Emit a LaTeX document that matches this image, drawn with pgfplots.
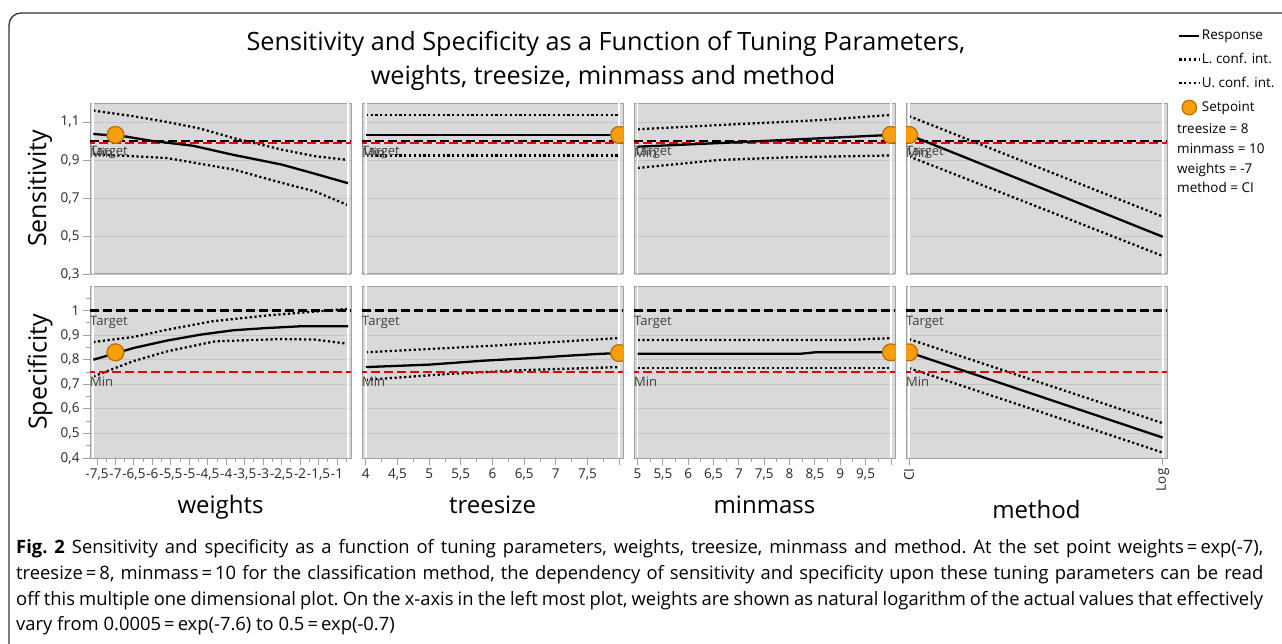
\documentclass[border=0pt]{standalone}
\usepackage{pgfplots}
\pgfplotsset{compat=1.18}
\usepgfplotslibrary{fillbetween}
\usepackage{fontspec}
\setmainfont{Open Sans}

\definecolor{panelgray}{RGB}{217,217,217}
\definecolor{framegray}{RGB}{160,160,160}
\definecolor{gridgray}{RGB}{196,196,196}
\definecolor{setorange}{RGB}{247,158,8}
\definecolor{setedge}{RGB}{186,108,0}
\definecolor{minred}{RGB}{230,0,0}
\definecolor{labgray}{RGB}{64,64,64}

\tikzset{
  tgt/.style={black, line width=2.6pt, dash pattern=on 9pt off 4pt},
  mn/.style={minred, line width=2.2pt, dash pattern=on 9pt off 4pt, dash phase=4pt},
  strip/.style={white, line width=1.8pt},
  lab/.style={font=\fontsize{13}{14}\selectfont, text=labgray, inner sep=0pt},
}

\pgfplotsset{
  layers/prof layers/.define layer set={axis background,pre main,axis grid,axis ticks,axis lines,axis tick labels,main,axis descriptions,axis foreground}{},
  prof/.style={
    set layers=prof layers,
    scale only axis, width=261pt, height=171pt,
    axis background/.style={fill=panelgray},
    axis line style={draw=framegray, line width=1pt},
    clip marker paths=true,
    ymajorgrids, major grid style={draw=gridgray, line width=0.9pt},
    tick align=outside, major tick length=7pt, minor tick length=4pt,
    tick style={draw=framegray, line width=0.9pt},
    xtick pos=bottom, ytick pos=left,
    tick label style={font=\fontsize{13.5}{15}\selectfont, text=black!85},
    xtick=\empty,
  },
  sens/.style={prof, ymin=0.3, ymax=1.2, ytick={0.3,0.5,0.7,0.9,1.1},
    yticklabels={{0,3},{0,5},{0,7},{0,9},{1,1}}},
  spec/.style={prof, height=172pt, ymin=0.4, ymax=1.1, ytick={0.4,0.5,0.6,0.7,0.8,0.9,1.0},
    yticklabels={{0,4},{0,5},{0,6},{0,7},{0,8},{0,9},1}},
  nolab/.style={yticklabels={}, ytick style={draw=none}},
  resp/.style={black, line width=2.3pt, forget plot},
  ci/.style={black, line width=2.3pt, dash pattern=on 2.2pt off 2.6pt, forget plot},
  setp/.style={only marks, mark=*, mark size=8.5pt,
    mark options={fill=setorange, draw=setedge, line width=1.2pt}, forget plot},
  band/.style={white, forget plot},
  legline/.style={legend image code/.code={\draw[##1] (0pt,0pt) -- (20pt,0pt);}},
  legcirc/.style={legend image code/.code={\draw[fill=setorange, draw=setedge, line width=1.2pt] (10pt,0pt) circle (7.3pt);}},
}

\begin{document}
\begin{tikzpicture}[x=1pt,y=1pt]

% ---------- top row: sensitivity ----------
\begin{axis}[sens, at={(90pt,-103pt)}, anchor=north west, xmin=-7.69, xmax=-0.62]
  \addplot[name path=U, ci] coordinates {(-7.6,1.16) (-6.5,1.13) (-5.6,1.10) (-4.7,1.065) (-3.8,1.015) (-2.5,0.955) (-1.6,0.92) (-0.7,0.90)};
  \addplot[name path=L, ci] coordinates {(-7.6,0.93) (-6.5,0.92) (-5.6,0.91) (-4.7,0.88) (-3.8,0.85) (-2.5,0.78) (-1.6,0.735) (-0.7,0.662)};
  \addplot[band] fill between[of=U and L];
  \draw[strip] (axis cs:-7.6,0.3) -- (axis cs:-7.6,1.2);
  \draw[strip] (axis cs:-0.7,0.3) -- (axis cs:-0.7,1.2);
  \draw[mn] (axis cs:-7.69,0.99) -- (axis cs:-0.62,0.99);
  \draw[tgt] (axis cs:-7.69,1.0) -- (axis cs:-0.62,1.0);
  \addplot[resp] coordinates {(-7.6,1.037) (-6.7,1.023) (-6.07,1.002) (-4.9,0.975) (-3.83,0.928) (-2.5,0.876) (-1.68,0.832) (-0.7,0.778)};
  \addplot[setp] coordinates {(-7,1.032)};
  \node[lab, anchor=north west, yshift=-5pt] at (axis cs:-7.69,1.0) {Target};
  \node[lab, anchor=north west, yshift=-5pt] at (axis cs:-7.69,0.99) {Min};
\end{axis}

\begin{axis}[sens, nolab, at={(362pt,-103pt)}, anchor=north west, xmin=3.94, xmax=8.06]
  \addplot[name path=U, ci] coordinates {(4,1.137) (8,1.137)};
  \addplot[name path=L, ci] coordinates {(4,0.924) (8,0.924)};
  \addplot[band] fill between[of=U and L];
  \draw[strip] (axis cs:4,0.3) -- (axis cs:4,1.2);
  \draw[strip] (axis cs:8,0.3) -- (axis cs:8,1.2);
  \draw[mn] (axis cs:3.94,0.99) -- (axis cs:8.06,0.99);
  \draw[tgt] (axis cs:3.94,1.0) -- (axis cs:8.06,1.0);
  \addplot[resp] coordinates {(4,1.032) (8,1.032)};
  \addplot[setp] coordinates {(8,1.032)};
  \node[lab, anchor=north west, yshift=-5pt] at (axis cs:3.94,1.0) {Target};
  \node[lab, anchor=north west, yshift=-5pt] at (axis cs:3.94,0.99) {Min};
\end{axis}

\begin{axis}[sens, nolab, at={(634pt,-103pt)}, anchor=north west, xmin=4.93, xmax=10.08]
  \addplot[name path=U, ci] coordinates {(5,1.062) (7.3,1.093) (8.6,1.11) (10,1.137)};
  \addplot[name path=L, ci] coordinates {(5,0.858) (6.6,0.90) (7.95,0.914) (10,0.924)};
  \addplot[band] fill between[of=U and L];
  \draw[strip] (axis cs:5,0.3) -- (axis cs:5,1.2);
  \draw[strip] (axis cs:10,0.3) -- (axis cs:10,1.2);
  \draw[mn] (axis cs:4.93,0.99) -- (axis cs:10.08,0.99);
  \draw[tgt] (axis cs:4.93,1.0) -- (axis cs:10.08,1.0);
  \addplot[resp] coordinates {(5,0.97) (6.6,0.989) (7.95,1.006) (8.9,1.018) (9.6,1.027) (10,1.032)};
  \addplot[setp] coordinates {(10,1.032)};
  \node[lab, anchor=north west, yshift=-5pt] at (axis cs:4.93,1.0) {Target};
  \node[lab, anchor=north west, yshift=-5pt] at (axis cs:4.93,0.99) {Min};
\end{axis}

\begin{axis}[sens, nolab, at={(906pt,-103pt)}, anchor=north west, xmin=-0.012, xmax=1.017,
  legend style={at={(axis description cs:1.042,1.435)}, anchor=north west, draw=none, fill=none,
    font=\fontsize{13.5}{15}\selectfont, row sep=9pt, inner sep=0pt, nodes={inner sep=1.5pt}},
  legend cell align=left]
  \addplot[name path=U, ci] coordinates {(0,1.131) (1,0.602)};
  \addplot[name path=L, ci] coordinates {(0,0.919) (1,0.395)};
  \addplot[band] fill between[of=U and L];
  \draw[strip] (axis cs:0,0.3) -- (axis cs:0,1.2);
  \draw[strip] (axis cs:1,0.3) -- (axis cs:1,1.2);
  \draw[mn] (axis cs:-0.012,0.99) -- (axis cs:1.017,0.99);
  \draw[tgt] (axis cs:-0.012,1.0) -- (axis cs:1.017,1.0);
  \addplot[resp] coordinates {(0,1.032) (1,0.496)};
  \addplot[setp] coordinates {(0,1.032)};
  \node[lab, anchor=north west, yshift=-5pt] at (axis cs:-0.012,1.0) {Target};
  \node[lab, anchor=north west, yshift=-5pt] at (axis cs:-0.012,0.99) {Min};
  \addlegendimage{legline, black, line width=2.2pt}
  \addlegendentry{Response}
  \addlegendimage{legline, black, line width=2.3pt, dash pattern=on 2.2pt off 2.6pt}
  \addlegendentry{L. conf. int.}
  \addlegendimage{legline, black, line width=2.3pt, dash pattern=on 2.2pt off 2.6pt}
  \addlegendentry{U. conf. int.}
  \addlegendimage{legcirc}
  \addlegendentry{Setpoint}
\end{axis}

% ---------- bottom row: specificity ----------
\begin{axis}[spec, at={(90pt,-286pt)}, anchor=north west, xmin=-7.69, xmax=-0.62,
  minor ytick={0.45,0.55,0.65,0.75,0.85,0.95,1.05},
  xtick={-7.5,-7,-6.5,-6,-5.5,-5,-4.5,-4,-3.5,-3,-2.5,-2,-1.5,-1},
  xticklabels={{-7,5},-7,{-6,5},-6,{-5,5},-5,{-4,5},-4,{-3,5},-3,{-2,5},-2,{-1,5},-1},
  minor xtick={-7.25,-6.75,-6.25,-5.75,-5.25,-4.75,-4.25,-3.75,-3.25,-2.75,-2.25,-1.75,-1.25,-0.75}]
  \addplot[name path=U, ci] coordinates {(-7.6,0.872) (-6.5,0.893) (-5.6,0.922) (-4.4,0.956) (-2.9,0.98) (-0.7,1.007)};
  \addplot[name path=L, ci] coordinates {(-7.6,0.732) (-6.5,0.795) (-5.6,0.834) (-4.3,0.875) (-2.5,0.884) (-1.6,0.882) (-0.7,0.865)};
  \addplot[band] fill between[of=U and L];
  \draw[strip] (axis cs:-7.6,0.4) -- (axis cs:-7.6,1.1);
  \draw[strip] (axis cs:-0.7,0.4) -- (axis cs:-0.7,1.1);
  \draw[mn] (axis cs:-7.69,0.75) -- (axis cs:-0.62,0.75);
  \draw[tgt] (axis cs:-7.69,1.0) -- (axis cs:-0.62,1.0);
  \addplot[resp] coordinates {(-7.6,0.80) (-6.5,0.848) (-5.6,0.878) (-4.7,0.902) (-3.8,0.92) (-2.9,0.929) (-2.0,0.936) (-0.7,0.936)};
  \addplot[setp] coordinates {(-7,0.83)};
  \node[lab, anchor=north west, yshift=-5pt] at (axis cs:-7.69,1.0) {Target};
  \node[lab, anchor=north west, yshift=-5pt] at (axis cs:-7.69,0.75) {Min};
\end{axis}

\begin{axis}[spec, nolab, at={(362pt,-286pt)}, anchor=north west, xmin=3.94, xmax=8.06,
  xtick={4,4.5,5,5.5,6,6.5,7,7.5,8},
  xticklabels={4,{4,5},5,{5,5},6,{6,5},7,{7,5},{}},
  minor xtick={4.25,4.75,5.25,5.75,6.25,6.75,7.25,7.75}]
  \addplot[name path=U, ci] coordinates {(4,0.83) (6,0.857) (8,0.888)};
  \addplot[name path=L, ci] coordinates {(4,0.718) (5.3,0.742) (6.4,0.757) (8,0.77)};
  \addplot[band] fill between[of=U and L];
  \draw[strip] (axis cs:4,0.4) -- (axis cs:4,1.1);
  \draw[strip] (axis cs:8,0.4) -- (axis cs:8,1.1);
  \draw[mn] (axis cs:3.94,0.75) -- (axis cs:8.06,0.75);
  \draw[tgt] (axis cs:3.94,1.0) -- (axis cs:8.06,1.0);
  \addplot[resp] coordinates {(4,0.77) (5,0.78) (5.85,0.796) (6.64,0.807) (7.17,0.816) (7.7,0.824) (8,0.827)};
  \addplot[setp] coordinates {(8,0.827)};
  \node[lab, anchor=north west, yshift=-5pt] at (axis cs:3.94,1.0) {Target};
  \node[lab, anchor=north west, yshift=-5pt] at (axis cs:3.94,0.75) {Min};
\end{axis}

\begin{axis}[spec, nolab, at={(634pt,-286pt)}, anchor=north west, xmin=4.93, xmax=10.08,
  xtick={5,5.5,6,6.5,7,7.5,8,8.5,9,9.5,10},
  xticklabels={5,{5,5},6,{6,5},7,{7,5},8,{8,5},9,{9,5},{}},
  minor xtick={5.25,5.75,6.25,6.75,7.25,7.75,8.25,8.75,9.25,9.75}]
  \addplot[name path=U, ci] coordinates {(5,0.88) (9.1,0.88) (10,0.888)};
  \addplot[name path=L, ci] coordinates {(5,0.766) (10,0.766)};
  \addplot[band] fill between[of=U and L];
  \draw[strip] (axis cs:5,0.4) -- (axis cs:5,1.1);
  \draw[strip] (axis cs:10,0.4) -- (axis cs:10,1.1);
  \draw[mn] (axis cs:4.93,0.75) -- (axis cs:10.08,0.75);
  \draw[tgt] (axis cs:4.93,1.0) -- (axis cs:10.08,1.0);
  \addplot[resp] coordinates {(5,0.824) (8.2,0.824) (8.5,0.83) (10,0.83)};
  \addplot[setp] coordinates {(10,0.83)};
  \node[lab, anchor=north west, yshift=-5pt] at (axis cs:4.93,1.0) {Target};
  \node[lab, anchor=north west, yshift=-5pt] at (axis cs:4.93,0.75) {Min};
\end{axis}

\begin{axis}[spec, nolab, at={(906pt,-286pt)}, anchor=north west, xmin=-0.012, xmax=1.017,
  xtick={0,1}, xticklabels={CI,Log}, xticklabel style={rotate=90, anchor=east}]
  \addplot[name path=U, ci] coordinates {(0,0.884) (1,0.542)};
  \addplot[name path=L, ci] coordinates {(0,0.766) (1,0.422)};
  \addplot[band] fill between[of=U and L];
  \draw[strip] (axis cs:0,0.4) -- (axis cs:0,1.1);
  \draw[strip] (axis cs:1,0.4) -- (axis cs:1,1.1);
  \draw[mn] (axis cs:-0.012,0.75) -- (axis cs:1.017,0.75);
  \draw[tgt] (axis cs:-0.012,1.0) -- (axis cs:1.017,1.0);
  \addplot[resp] coordinates {(0,0.83) (1,0.483)};
  \addplot[setp] coordinates {(0,0.83)};
  \node[lab, anchor=north west, yshift=-5pt] at (axis cs:-0.012,1.0) {Target};
  \node[lab, anchor=north west, yshift=-5pt] at (axis cs:-0.012,0.75) {Min};
\end{axis}

% ---------- titles and labels ----------
\node[anchor=base, font=\fontsize{25.2}{28}\selectfont] at (606,-50) {Sensitivity and Specificity as a Function of Tuning Parameters,};
\node[anchor=base, font=\fontsize{25.2}{28}\selectfont] at (603,-84) {weights, treesize, minmass and method};
\node[rotate=90, font=\fontsize{25}{28}\selectfont] at (40,-188.5) {Sensitivity};
\node[rotate=90, font=\fontsize{25}{28}\selectfont] at (40,-372) {Specificity};
\node[anchor=base, font=\fontsize{24}{27}\selectfont] at (220.5,-513) {weights};
\node[anchor=base, font=\fontsize{24}{27}\selectfont] at (492.5,-513) {treesize};
\node[anchor=base, font=\fontsize{24}{27}\selectfont] at (764.5,-513) {minmass};
\node[anchor=base, font=\fontsize{24}{27}\selectfont] at (1036.5,-518) {method};

% ---------- setpoint values beside the legend ----------
\node[anchor=base west, inner sep=0pt, font=\fontsize{13.5}{15}\selectfont] at (1177,-133) {treesize = 8};
\node[anchor=base west, inner sep=0pt, font=\fontsize{13.5}{15}\selectfont] at (1177,-153) {minmass = 10};
\node[anchor=base west, inner sep=0pt, font=\fontsize{13.5}{15}\selectfont] at (1177,-173) {weights = -7};
\node[anchor=base west, inner sep=0pt, font=\fontsize{13.5}{15}\selectfont] at (1177,-192.5) {method = CI};

% ---------- caption ----------
\begin{scope}[every node/.style={anchor=base west, inner sep=0pt, font=\frenchspacing\fontsize{18.4}{21}\selectfont}]
\node at (16,-553.5) {\makebox[1247pt][s]{\textbf{Fig. 2} Sensitivity and specificity as a function of tuning parameters, weights, treesize, minmass and method. At the set point weights\,=\,exp(-7),}};
\node at (16,-579.3) {\makebox[1247pt][s]{treesize\,=\,8, minmass\,=\,10 for the classification method, the dependency of sensitivity and specificity upon these tuning parameters can be read}};
\node at (16,-605) {\makebox[1247pt][s]{off this multiple one dimensional plot. On the x-axis in the left most plot, weights are shown as natural logarithm of the actual values that effectively}};
\node at (16,-630.5) {vary from 0.0005\,=\,exp(-7.6) to 0.5\,=\,exp(-0.7)};
\end{scope}

\draw[rounded corners=12pt, line width=1.3pt, black!80] (1300,-13) -- (9,-13) -- (9,-660);
\pgfresetboundingbox
\useasboundingbox (0,0) rectangle (1282,-643);
\end{tikzpicture}
\end{document}
